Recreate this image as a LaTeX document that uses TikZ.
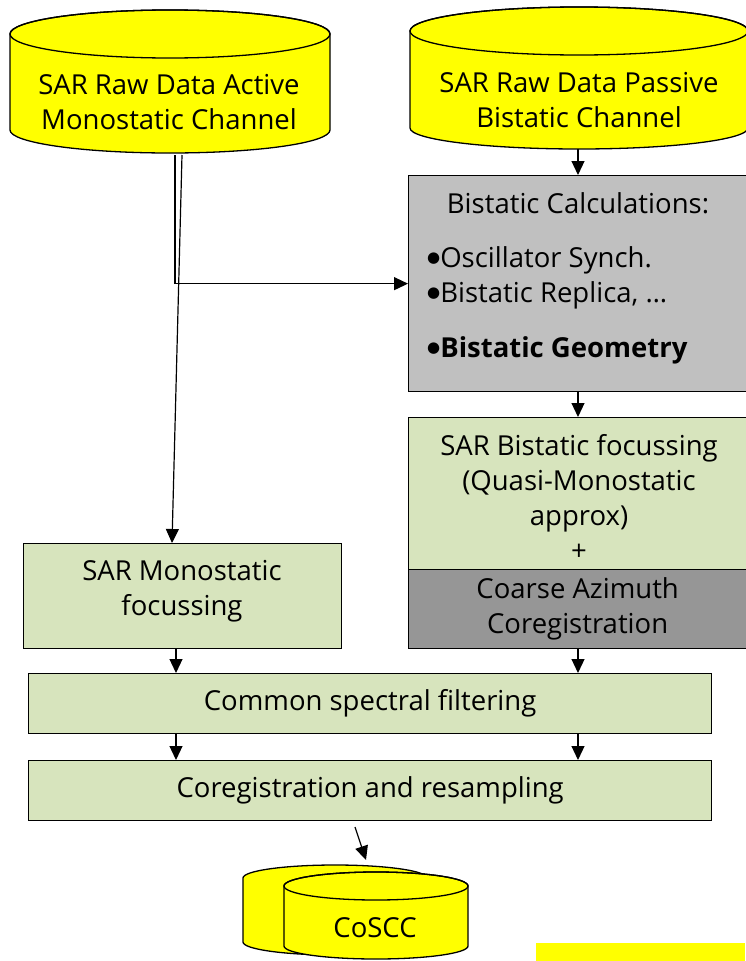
\documentclass[tikz,border=0pt]{standalone}
\usepackage{fontspec}
\setmainfont{Open Sans}
\newfontfamily\symfont{DejaVu Sans}
\usetikzlibrary{arrows.meta}

\definecolor{dbyellow}{RGB}{255,255,0}
\definecolor{stepgreen}{RGB}{215,228,189}
\definecolor{calcgray}{RGB}{192,192,192}
\definecolor{coarsegray}{RGB}{150,150,150}

\newcommand{\bigbullet}{\raisebox{4.5pt}{\symfont\fontsize{15}{15}\selectfont ●}}

\begin{document}
\begin{tikzpicture}[x=1pt, y=1pt,
    txt/.style={inner sep=0pt, align=center, font=\fontsize{27.5}{35}\selectfont},
    stepbox/.style={draw, line width=1.3pt, inner sep=0pt, anchor=north west,
      align=center, font=\fontsize{27.5}{35}\selectfont},
    drum/.style={fill=dbyellow, draw, line width=1.3pt},
    arr/.style={line width=1.2pt, -{Triangle[length=14pt,width=13pt]}}]

  \useasboundingbox (0,0) rectangle (745,-961);

  % raw data channels
  \path[drum] (10,-34) -- (10,-130) arc[start angle=180, end angle=360, x radius=160, y radius=23]
    -- (330,-34) arc[start angle=0, end angle=180, x radius=160, y radius=24] -- cycle;
  \draw[line width=1.3pt] (170,-34) ellipse[x radius=160, y radius=24];
  \node[txt] (active) at (169,-102.5) {SAR Raw Data Active\\Monostatic Channel};

  \path[drum] (410,-31) -- (410,-128) arc[start angle=180, end angle=360, x radius=169, y radius=21]
    -- (748,-31) arc[start angle=0, end angle=180, x radius=169, y radius=24] -- cycle;
  \draw[line width=1.3pt] (579,-31) ellipse[x radius=169, y radius=24];
  \node[txt] (passive) at (579,-100.5) {SAR Raw Data Passive\\Bistatic Channel};

  \coordinate (activeout1) at (175,-155);
  \coordinate (activeout2) at (182,-155);
  \coordinate (passiveout) at (578,-149);
  \coordinate (monoin) at (172,-543);
  \coordinate (lx) at (176,0);
  \coordinate (rx) at (578,0);

  % processing steps
  \node[stepbox, fill=calcgray, minimum width=338, minimum height=216] (calc) at (408,-175) {};
  \node[txt] (calctitle) at (578,-203) {Bistatic Calculations:};
  \node[txt, anchor=west, align=left] (calclist) at (427,-305)
    {\bigbullet Oscillator Synch.\\\bigbullet Bistatic Replica, …\\[20pt]{\bfseries\bigbullet Bistatic Geometry}};

  \node[stepbox, fill=stepgreen, minimum width=338, minimum height=152] (bifocus) at (408,-417) {};
  \node[txt] (bifocustext) at (579,-497) {SAR Bistatic focussing\\(Quasi-Monostatic\\approx)\\+};
  \node[stepbox, fill=coarsegray, minimum width=338, minimum height=79] (coarse) at (408,-569)
    {Coarse Azimuth\\Coregistration};

  \node[stepbox, fill=stepgreen, minimum width=318, minimum height=105] (mono) at (23,-543) {};
  \node[txt] (monotext) at (182,-591) {SAR Monostatic\\focussing};

  \node[stepbox, fill=stepgreen, minimum width=683, minimum height=60] (common) at (28,-673)
    {Common spectral filtering};
  \node[stepbox, fill=stepgreen, minimum width=683, minimum height=60] (coreg) at (28,-760)
    {Coregistration and resampling};

  % output product
  \path[drum] (243,-878) -- (243,-942) arc[start angle=180, end angle=360, x radius=92, y radius=13]
    -- (427,-878) arc[start angle=0, end angle=180, x radius=92, y radius=13] -- cycle;
  \path[drum] (284,-886) -- (284,-946) arc[start angle=180, end angle=360, x radius=92, y radius=13]
    -- (468,-886) arc[start angle=0, end angle=180, x radius=92, y radius=14] -- cycle;
  \draw[line width=1.3pt] (376,-886) ellipse[x radius=92, y radius=14];
  \node[txt] (coscc) at (375,-928) {CoSCC};

  \coordinate (coregout) at (355,-827);
  \coordinate (cosccin) at (366,-860);

  % connectors
  \draw[arr] (passiveout) -- (calc.north -| rx);
  \draw[arr] (activeout1) |- (calc.west);
  \draw[arr] (activeout2) -- (monoin);
  \draw[arr] (calc.south -| rx) -- (bifocus.north -| rx);
  \draw[arr] (mono.south -| lx) -- (common.north -| lx);
  \draw[arr] (coarse.south -| rx) -- (common.north -| rx);
  \draw[arr] (common.south -| lx) -- (coreg.north -| lx);
  \draw[arr] (common.south -| rx) -- (coreg.north -| rx);
  \draw[arr] (coregout) -- (cosccin);

  \fill[dbyellow] (536,-943) rectangle (745,-961);
\end{tikzpicture}
\end{document}
